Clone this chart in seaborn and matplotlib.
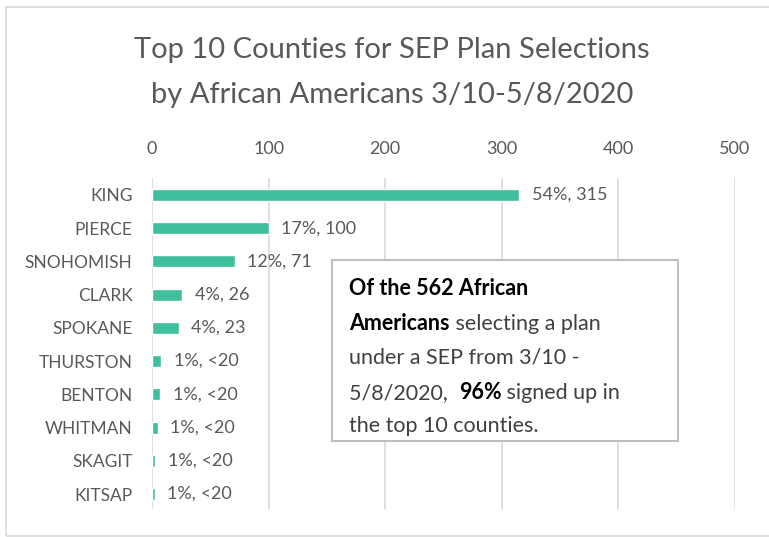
import matplotlib
matplotlib.use('Agg')
import matplotlib.pyplot as plt
import seaborn as sns
from matplotlib.patches import Rectangle
from matplotlib.text import Annotation

# Data
counties = ['KING', 'PIERCE', 'SNOHOMISH', 'CLARK', 'SPOKANE',
            'THURSTON', 'BENTON', 'WHITMAN', 'SKAGIT', 'KITSAP']
selections = [315, 100, 71, 26, 23, 8, 7, 5, 3, 2.5]
bar_labels = ['54%, 315', '17%, 100', '12%, 71', '4%, 26', '4%, 23',
              '1%, <20', '1%, <20', '1%, <20', '1%, <20', '1%, <20']
x_ticks = [0, 100, 200, 300, 400, 500]

sns.set_theme(style="white")
plt.rcParams['font.family'] = ['Lato', 'DejaVu Sans']

grey_text = '#595959'
bar_color = '#3fbf9c'

fig = plt.figure(figsize=(7.69, 5.37), dpi=100)
ax = fig.add_axes([152 / 769, 1 - 509 / 537, (735 - 152) / 769, (509 - 178) / 537])

sns.barplot(x=selections, y=counties, orient='h', color=bar_color,
            width=0.36, saturation=1, ax=ax)

# value labels next to each bar
ax.bar_label(ax.containers[0], labels=bar_labels, padding=9,
             fontsize=13, color=grey_text)

# Axis styling: ticks on top, vertical gridlines
ax.set_xlim(0, 500)
ax.set_ylim(9.45, -0.51)
ax.set_xticks(x_ticks)
ax.xaxis.tick_top()
ax.tick_params(axis='x', length=0, pad=15, labelsize=13, labelcolor=grey_text)
ax.tick_params(axis='y', length=0, pad=14, labelsize=12.5, labelcolor=grey_text)
ax.grid(axis='x', color='#d9d9d9', linewidth=1.2)
ax.set_axisbelow(True)
ax.set_xlabel('')
ax.set_ylabel('')
sns.despine(ax=ax, left=True, bottom=True, top=True, right=True)

# Title
fig.text(392 / 769, 1 - 50 / 537, 'Top 10 Counties for SEP Plan Selections',
         ha='center', va='center', fontsize=21, color=grey_text)
fig.text(392 / 769, 1 - 95 / 537, 'by African Americans 3/10-5/8/2020',
         ha='center', va='center', fontsize=21, color=grey_text)

# Outer chart frame
fig.patches.append(Rectangle((6 / 769, 0.002), 1.0, 1 - 7 / 537 - 0.002,
                             transform=fig.transFigure, fill=False,
                             edgecolor='#d9d9d9', linewidth=1.2))

# Text box
fig.patches.append(Rectangle((332 / 769, 1 - 441 / 537), (678 - 332) / 769, (441 - 260) / 537,
                             transform=fig.transFigure, facecolor='white',
                             edgecolor='#bfbfbf', linewidth=1.5, zorder=3))

box_lines = [
    [('Of the 562 African', 'bold')],
    [('Americans', 'bold'), (' selecting a plan', 'normal')],
    [('under a SEP from 3/10 -', 'normal')],
    [('5/8/2020,  ', 'normal'), ('96%', 'bold'), (' signed up in', 'normal')],
    [('the top 10 counties.', 'normal')],
]
line_y = [288, 323, 357, 392, 425]

# each line is built from pieces, chained after the previous piece
for parts, y in zip(box_lines, line_y):
    prev = None
    for txt, weight in parts:
        color = 'black' if weight == 'bold' else '#404040'
        if prev is None:
            prev = fig.text(349 / 769, 1 - y / 537, txt, ha='left', va='baseline',
                            fontsize=15.5, fontweight=weight, color=color, zorder=4)
            prev.set_y(1 - (y + 7) / 537)
        else:
            ann = Annotation(txt, xy=(1, 0), xycoords=prev, va='bottom', ha='left',
                             fontsize=15.5, fontweight=weight, color=color,
                             annotation_clip=False, zorder=4)
            fig.add_artist(ann)
            prev = ann

fig.savefig('out.png', dpi=100)
